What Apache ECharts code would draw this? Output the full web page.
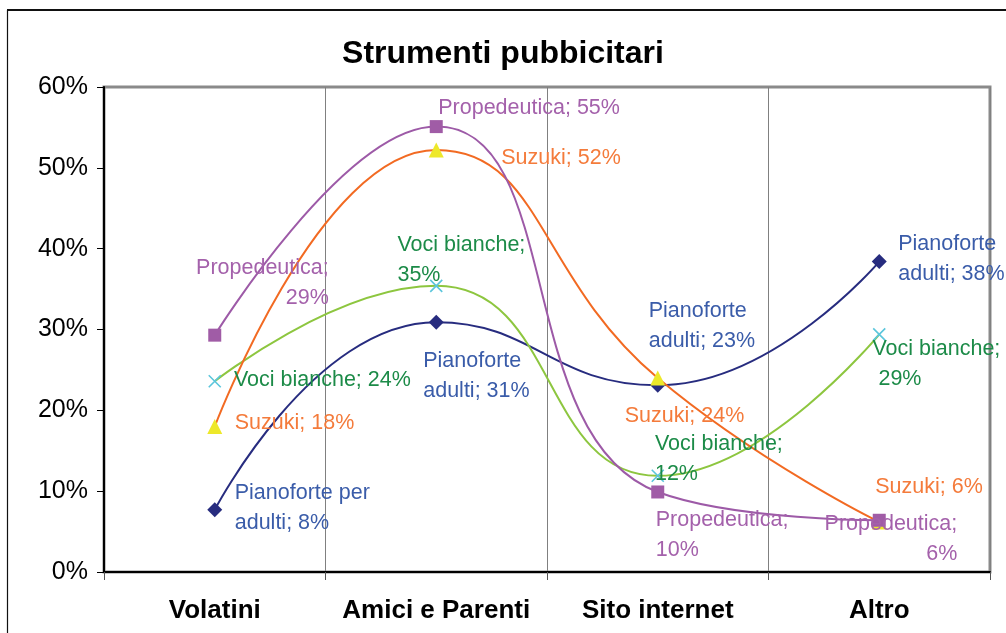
<!DOCTYPE html>
<html>
<head>
<meta charset="utf-8">
<script src="https://cdn.jsdelivr.net/npm/echarts@6/dist/echarts.min.js"></script>
<style>
html,body{margin:0;padding:0;background:#fff;}
#c{width:1006px;height:633px;}
</style>
</head>
<body>
<div id="c"></div>
<script>
// ---- data ----
const titleText = 'Strumenti pubbicitari';
const categories = ['Volatini', 'Amici e Parenti', 'Sito internet', 'Altro'];
const pianoforteAdulti = [7.7, 30.9, 23.1, 38.4];
const suzuki = [18, 52.2, 24, 6.2];
const propedeutica = [29.3, 55.1, 9.9, 6.4];
const vociBianche = [23.6, 35.4, 11.9, 29.4];
const yMin = 0, yMax = 60, yStep = 10;

// ---- label layout (offsets from point centre: dx, dy, align, text mode, optional name) ----
const FONT = 'Liberation Sans, Arial, Helvetica, sans-serif';
const seriesDefs = [
  {
    name: 'Pianoforte adulti', values: pianoforteAdulti, symbol: 'diamond', size: 15,
    line: '#272C7F', mark: '#272C7F', labelColor: '#3A5CA9',
    labels: [[20, -32, 'left', 'word', 'Pianoforte per adulti'], [-13, 24, 'left', 'word'], [-9, -89, 'left', 'word'], [19, -33, 'left', 'word']]
  },
  {
    name: 'Voci bianche', values: vociBianche, symbol: 'path://M0,0L10,10M0,10L10,0', size: 12,
    line: '#8DC63F', mark: '#5BC6DC', labelColor: '#1C8B48', cross: true,
    labels: [[20, -15, 'left', 'line'], [-38, -55, 'left', 'semi'], [-2, -46, 'left', 'semi'], [-6, 1, 'left', 'semiSp']]
  },
  {
    name: 'Suzuki', values: suzuki, symbol: 'triangle', size: 15,
    line: '#F26A22', mark: '#EDE82A', labelColor: '#F47B3B',
    labels: [[20, -18, 'left', 'line'], [65, -7, 'left', 'line'], [-33, 23, 'left', 'line'], [-4, -50, 'left', 'line']]
  },
  {
    name: 'Propedeutica', values: propedeutica, symbol: 'rect', size: 13,
    line: '#9D5AA7', mark: '#A05CA6', labelColor: '#A461AB',
    labels: [[114, -82, 'right', 'semi'], [2, -34, 'left', 'line'], [-2, 13, 'left', 'semi'], [78, -11, 'right', 'semi']]
  }
];

function labelText(name, v, mode) {
  const p = Math.round(v) + '%';
  if (mode === 'semi') return name + ';\n' + p;
  if (mode === 'semiSp') return name + ';\n ' + p;
  if (mode === 'word') {
    const i = name.lastIndexOf(' ');
    return name.slice(0, i) + '\n' + name.slice(i + 1) + '; ' + p;
  }
  return name + '; ' + p;
}

const series = seriesDefs.map(function (d) {
  return {
    name: d.name,
    type: 'line',
    smooth: 0.5,
    symbol: d.symbol,
    symbolSize: d.size,
    showAllSymbol: true,
    lineStyle: { color: d.line, width: 2 },
    itemStyle: d.cross
      ? { color: d.mark, borderColor: d.mark, borderWidth: 1.6 }
      : { color: d.mark, borderWidth: 0 },
    emphasis: { disabled: true },
    data: d.values.map(function (v, i) {
      const L = d.labels[i];
      const nm = L[4] || d.name;
      return {
        value: v,
        label: {
          show: true,
          position: [L[0] + d.size / 2, L[1] + d.size / 2],
          align: L[2],
          verticalAlign: 'top',
          formatter: labelText(nm, v, L[3]),
          color: d.labelColor,
          fontFamily: FONT,
          fontSize: 21.5,
          lineHeight: 30
        }
      };
    })
  };
});

const chart = echarts.init(document.getElementById('c'), null, { renderer: 'canvas' });
chart.setOption({
  animation: false,
  backgroundColor: '#fff',
  title: {
    text: titleText,
    left: 'center',
    top: 33,
    padding: [5, 0, 5, 12],
    textStyle: { fontFamily: FONT, fontWeight: 'bold', fontSize: 32, color: '#000' }
  },
  graphic: [
    { type: 'line', shape: { x1: 7, y1: 10, x2: 1006, y2: 10 }, style: { stroke: '#111', lineWidth: 2 }, z: 10 },
    { type: 'line', shape: { x1: 7.5, y1: 10, x2: 7.5, y2: 633 }, style: { stroke: '#111', lineWidth: 1.2 }, z: 10 }
  ],
  grid: {
    left: 104, right: 16, top: 87, bottom: 61,
    show: true, borderColor: '#8a8a8a', borderWidth: 3, backgroundColor: 'transparent'
  },
  xAxis: {
    type: 'category',
    data: categories,
    boundaryGap: true,
    axisLine: { lineStyle: { color: '#000', width: 2 } },
    axisTick: { show: true, interval: 0, length: 8, lineStyle: { color: '#555', width: 1 } },
    splitLine: { show: true, interval: 0, lineStyle: { color: '#808080', width: 1 } },
    axisLabel: { interval: 0, fontFamily: FONT, fontWeight: 'bold', fontSize: 26, color: '#000', margin: 26 }
  },
  yAxis: {
    type: 'value',
    min: yMin, max: yMax, interval: yStep,
    axisLine: { show: true, lineStyle: { color: '#000', width: 2 } },
    axisTick: { show: true, length: 7, lineStyle: { color: '#000', width: 1 } },
    splitLine: { show: false },
    axisLabel: { fontFamily: FONT, fontSize: 25, color: '#000', margin: 16, formatter: '{value}%' }
  },
  series: series
});
</script>
</body>
</html>
